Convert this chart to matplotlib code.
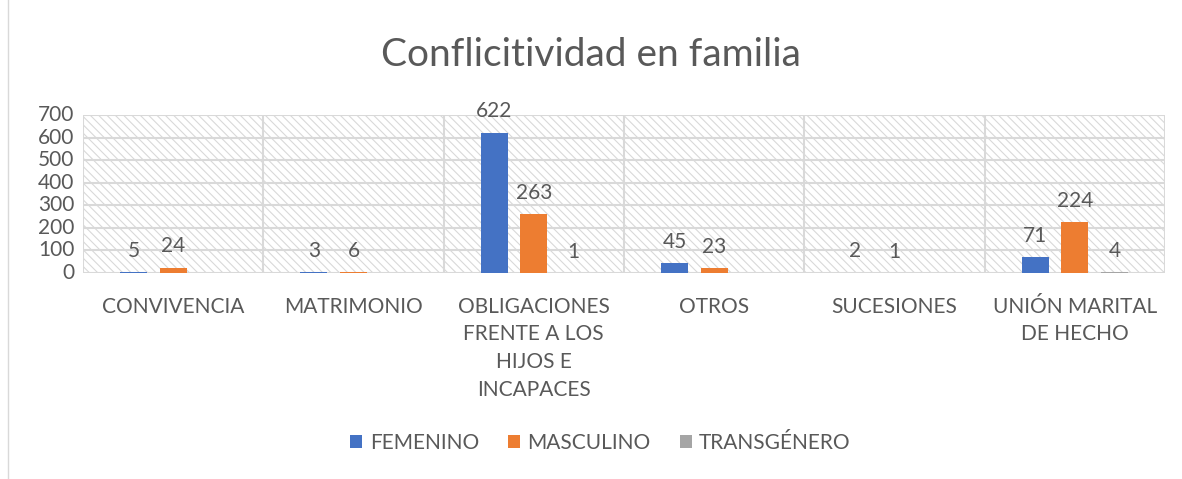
import numpy as np
import matplotlib.pyplot as plt
from matplotlib.patches import Rectangle

categories = ["CONVIVENCIA", "MATRIMONIO", "OBLIGACIONES\nFRENTE A LOS\nHIJOS E\nINCAPACES",
              "OTROS", "SUCESIONES", "UNIÓN MARITAL\nDE HECHO"]
femenino = [5, 3, 622, 45, 2, 71]
masculino = [24, 6, 263, 23, 1, 224]
transgenero = [np.nan, np.nan, 1, np.nan, np.nan, 4]
series = [("FEMENINO", femenino, "#4472C4"),
          ("MASCULINO", masculino, "#ED7D31"),
          ("TRANSGÉNERO", transgenero, "#A5A5A5")]
yticks = [0, 100, 200, 300, 400, 500, 600, 700]

plt.rcParams['font.family'] = ['Lato', 'DejaVu Sans']
plt.rcParams['hatch.linewidth'] = 0.8
txt = "#595959"

fig = plt.figure(figsize=(11.82, 4.79), dpi=100)
ax = fig.add_axes([0.0702, 0.430, 0.9154, 0.330])

# fondo rayado del área de trazado
ax.add_patch(Rectangle((0, 0), 1, 1, transform=ax.transAxes, facecolor="white",
                       edgecolor="#d9d9d9", hatch="\\\\\\\\", lw=0, zorder=0))

x = np.arange(len(categories))
w = 0.15
step = 0.22
for i, (name, vals, col) in enumerate(series):
    pos = x + (i - 1) * step
    v = np.array(vals, dtype=float)
    ax.bar(pos, np.nan_to_num(v), width=w, color=col, label=name, zorder=3)
    for p, val in zip(pos, v):
        if not np.isnan(val):
            ax.annotate(f"{int(val)}", (p, val), xytext=(0, 8), textcoords="offset points",
                        ha="center", va="bottom", fontsize=15, color=txt, zorder=4)

ax.set_xlim(-0.5, len(categories) - 0.5)
ax.set_ylim(0, 700)
ax.set_yticks(yticks)
ax.tick_params(axis="y", length=0, labelsize=15, labelcolor=txt, pad=6)
ax.set_xticks(x)
ax.set_xticklabels(categories, fontsize=15, color=txt, linespacing=1.48)
ax.tick_params(axis="x", length=0, pad=17)
ax.set_yticklabels([str(t) for t in yticks], va="center")

for yv in yticks:
    ax.axhline(yv, color="#d9d9d9", lw=1.5, zorder=1)
for xb in np.arange(-0.5, len(categories) + 0.5, 1):
    ax.axvline(xb, color="#d9d9d9", lw=1.5, zorder=1)
for s in ax.spines.values():
    s.set_visible(False)

fig.text(0.5, 0.885, "Conflicitividad en familia", ha="center", va="center",
         fontsize=28, color=txt)

handles, labels = ax.get_legend_handles_labels()
fig.legend(handles, labels, loc="center", bbox_to_anchor=(0.508, 0.075), ncol=3,
           frameon=False, fontsize=15, labelcolor=txt, handlelength=0.57,
           handleheight=0.57, handletextpad=0.35, columnspacing=1.4)

fig.add_artist(Rectangle((0.007, -0.02), 1.1, 1.1, transform=fig.transFigure,
                         fill=False, edgecolor="#d9d9d9", lw=1))

fig.savefig("out.png", dpi=100)
